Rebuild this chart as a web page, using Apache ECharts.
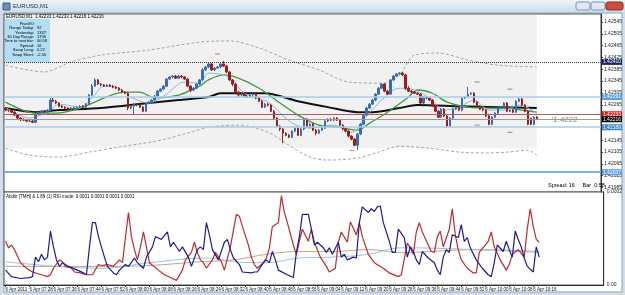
<!DOCTYPE html>
<html>
<head>
<meta charset="utf-8">
<title>EURUSD,M1</title>
<script src="https://cdn.jsdelivr.net/npm/echarts@6.0.0/dist/echarts.min.js"></script>
<style>
  html, body { margin: 0; padding: 0; background: #d6e0ec; }
  #chart { width: 625px; height: 295px; }
</style>
</head>
<body>
<div id="chart"></div>
<script>
// one category per M1 bar, 07:20 onwards, with empty room on the right like MT4
const categories = [];
for (let i = 0; i < 200; i++) {
  const m = 7 * 60 + 20 + i;
  categories.push(String(Math.floor(m / 60)).padStart(2, "0") + ":" + String(m % 60).padStart(2, "0"));
}

const xTickLabels = [
  "6 Apr 2011", "6 Apr 07:28", "6 Apr 07:36", "6 Apr 07:44", "6 Apr 07:52", "6 Apr 08:00",
  "6 Apr 08:08", "6 Apr 08:16", "6 Apr 08:24", "6 Apr 08:32", "6 Apr 08:40", "6 Apr 08:48",
  "6 Apr 08:56", "6 Apr 09:04", "6 Apr 09:12", "6 Apr 09:20", "6 Apr 09:28", "6 Apr 09:36",
  "6 Apr 09:44", "6 Apr 09:52", "6 Apr 10:00", "6 Apr 10:08", "6 Apr 10:16"
];

const priceTicks = [
  1.42545, 1.42505, 1.42465, 1.42425, 1.42385, 1.42345, 1.42305, 1.42265,
  1.42225, 1.42185, 1.42145, 1.42105, 1.42065, 1.42025, 1.41985
];

// [open, close, low, high]
const candles = [
  [1.42254,1.42247,1.42243,1.42257],[1.42247,1.42247,1.42240,1.42250],[1.42247,1.42240,1.42237,1.42250],
  [1.42240,1.42230,1.42227,1.42243],[1.42230,1.42220,1.42216,1.42233],[1.42220,1.42216,1.42210,1.42223],
  [1.42216,1.42213,1.42210,1.42220],[1.42213,1.42210,1.42206,1.42216],[1.42210,1.42210,1.42206,1.42213],
  [1.42210,1.42206,1.42203,1.42213],
  [1.42206,1.42233,1.42203,1.42237],[1.42233,1.42240,1.42230,1.42243],[1.42240,1.42243,1.42237,1.42247],
  [1.42243,1.42240,1.42237,1.42247],[1.42240,1.42247,1.42237,1.42250],[1.42247,1.42281,1.42243,1.42288],
  [1.42281,1.42277,1.42274,1.42288],[1.42277,1.42271,1.42267,1.42281],[1.42271,1.42260,1.42257,1.42274],
  [1.42260,1.42257,1.42254,1.42264],
  [1.42257,1.42254,1.42250,1.42260],[1.42254,1.42250,1.42247,1.42257],[1.42250,1.42254,1.42247,1.42257],
  [1.42254,1.42254,1.42250,1.42257],[1.42254,1.42257,1.42250,1.42260],[1.42257,1.42260,1.42254,1.42264],
  [1.42260,1.42257,1.42254,1.42264],[1.42257,1.42267,1.42254,1.42271],[1.42267,1.42298,1.42264,1.42301],
  [1.42298,1.42328,1.42294,1.42335],
  [1.42328,1.42349,1.42325,1.42355],[1.42349,1.42335,1.42332,1.42352],[1.42335,1.42332,1.42328,1.42338],
  [1.42332,1.42328,1.42325,1.42335],[1.42328,1.42332,1.42325,1.42335],[1.42332,1.42328,1.42325,1.42335],
  [1.42328,1.42325,1.42321,1.42332],[1.42325,1.42321,1.42318,1.42328],[1.42321,1.42315,1.42311,1.42325],
  [1.42315,1.42308,1.42304,1.42318],
  [1.42308,1.42304,1.42301,1.42311],[1.42304,1.42254,1.42247,1.42308],[1.42254,1.42260,1.42250,1.42264],
  [1.42260,1.42267,1.42230,1.42271],[1.42267,1.42264,1.42260,1.42271],[1.42264,1.42257,1.42254,1.42267],
  [1.42257,1.42243,1.42240,1.42260],[1.42243,1.42271,1.42240,1.42274],[1.42271,1.42274,1.42267,1.42277],
  [1.42274,1.42281,1.42271,1.42284],
  [1.42281,1.42294,1.42277,1.42298],[1.42294,1.42311,1.42291,1.42315],[1.42311,1.42318,1.42308,1.42321],
  [1.42318,1.42328,1.42315,1.42332],[1.42328,1.42352,1.42325,1.42355],[1.42352,1.42359,1.42349,1.42362],
  [1.42359,1.42362,1.42355,1.42366],[1.42362,1.42355,1.42352,1.42366],[1.42355,1.42362,1.42352,1.42366],
  [1.42362,1.42359,1.42355,1.42366],
  [1.42359,1.42352,1.42349,1.42362],[1.42352,1.42328,1.42325,1.42355],[1.42328,1.42315,1.42308,1.42332],
  [1.42315,1.42321,1.42311,1.42325],[1.42321,1.42335,1.42318,1.42338],[1.42335,1.42349,1.42332,1.42352],
  [1.42349,1.42383,1.42345,1.42389],[1.42383,1.42393,1.42379,1.42396],[1.42393,1.42403,1.42389,1.42406],
  [1.42403,1.42383,1.42379,1.42406],
  [1.42383,1.42389,1.42379,1.42393],[1.42389,1.42393,1.42386,1.42396],[1.42393,1.42403,1.42389,1.42406],
  [1.42403,1.42396,1.42393,1.42413],[1.42396,1.42376,1.42372,1.42399],[1.42376,1.42349,1.42345,1.42379],
  [1.42349,1.42335,1.42328,1.42352],[1.42335,1.42308,1.42304,1.42338],[1.42308,1.42298,1.42291,1.42311],
  [1.42298,1.42301,1.42294,1.42304],
  [1.42301,1.42294,1.42291,1.42304],[1.42294,1.42291,1.42288,1.42298],[1.42291,1.42298,1.42288,1.42301],
  [1.42298,1.42301,1.42294,1.42304],[1.42301,1.42288,1.42284,1.42304],[1.42288,1.42277,1.42274,1.42291],
  [1.42277,1.42257,1.42254,1.42281],[1.42257,1.42267,1.42254,1.42271],[1.42267,1.42264,1.42260,1.42271],
  [1.42264,1.42243,1.42240,1.42267],
  [1.42243,1.42220,1.42216,1.42247],[1.42220,1.42193,1.42189,1.42223],[1.42193,1.42183,1.42176,1.42196],
  [1.42183,1.42169,1.42135,1.42186],[1.42169,1.42162,1.42159,1.42172],[1.42162,1.42155,1.42152,1.42166],
  [1.42155,1.42176,1.42152,1.42179],[1.42176,1.42186,1.42172,1.42189],[1.42186,1.42162,1.42159,1.42189],
  [1.42162,1.42183,1.42159,1.42186],
  [1.42183,1.42216,1.42179,1.42220],[1.42216,1.42189,1.42186,1.42220],[1.42189,1.42199,1.42186,1.42203],
  [1.42199,1.42179,1.42176,1.42203],[1.42179,1.42169,1.42162,1.42183],[1.42169,1.42179,1.42166,1.42183],
  [1.42179,1.42186,1.42176,1.42189],[1.42186,1.42210,1.42183,1.42213],[1.42210,1.42216,1.42206,1.42220],
  [1.42216,1.42213,1.42210,1.42220],
  [1.42213,1.42220,1.42210,1.42223],[1.42220,1.42213,1.42210,1.42223],[1.42213,1.42196,1.42193,1.42216],
  [1.42196,1.42183,1.42179,1.42199],[1.42183,1.42176,1.42172,1.42186],[1.42176,1.42159,1.42155,1.42179],
  [1.42159,1.42149,1.42145,1.42162],[1.42149,1.42128,1.42125,1.42152],[1.42128,1.42166,1.42111,1.42169],
  [1.42166,1.42199,1.42162,1.42203],
  [1.42199,1.42230,1.42196,1.42233],[1.42230,1.42254,1.42227,1.42257],[1.42254,1.42267,1.42250,1.42271],
  [1.42267,1.42281,1.42264,1.42284],[1.42281,1.42301,1.42277,1.42304],[1.42301,1.42321,1.42298,1.42325],
  [1.42321,1.42335,1.42318,1.42338],[1.42335,1.42311,1.42308,1.42338],[1.42311,1.42301,1.42298,1.42315],
  [1.42301,1.42349,1.42298,1.42352],
  [1.42349,1.42362,1.42345,1.42366],[1.42362,1.42369,1.42359,1.42372],[1.42369,1.42372,1.42366,1.42376],
  [1.42372,1.42366,1.42362,1.42376],[1.42366,1.42321,1.42315,1.42369],[1.42321,1.42311,1.42308,1.42328],
  [1.42311,1.42308,1.42304,1.42315],[1.42308,1.42304,1.42301,1.42311],[1.42304,1.42301,1.42298,1.42308],
  [1.42301,1.42271,1.42267,1.42304],
  [1.42271,1.42291,1.42267,1.42294],[1.42291,1.42288,1.42284,1.42294],[1.42288,1.42281,1.42277,1.42291],
  [1.42281,1.42260,1.42257,1.42284],[1.42260,1.42243,1.42240,1.42264],[1.42243,1.42223,1.42220,1.42247],
  [1.42223,1.42250,1.42220,1.42254],[1.42250,1.42227,1.42223,1.42254],[1.42227,1.42193,1.42186,1.42230],
  [1.42193,1.42220,1.42189,1.42223],
  [1.42220,1.42250,1.42216,1.42254],[1.42250,1.42257,1.42247,1.42260],[1.42257,1.42247,1.42243,1.42260],
  [1.42247,1.42288,1.42243,1.42291],[1.42288,1.42291,1.42284,1.42294],[1.42291,1.42301,1.42288,1.42325],
  [1.42301,1.42304,1.42298,1.42308],[1.42304,1.42274,1.42271,1.42308],[1.42274,1.42260,1.42257,1.42277],
  [1.42260,1.42250,1.42247,1.42264],
  [1.42250,1.42247,1.42243,1.42254],[1.42247,1.42227,1.42223,1.42250],[1.42227,1.42199,1.42196,1.42230],
  [1.42199,1.42223,1.42196,1.42227],[1.42223,1.42237,1.42220,1.42240],[1.42237,1.42254,1.42233,1.42257],
  [1.42254,1.42257,1.42250,1.42260],[1.42257,1.42271,1.42254,1.42274],[1.42271,1.42243,1.42240,1.42274],
  [1.42243,1.42247,1.42240,1.42250],
  [1.42247,1.42240,1.42237,1.42250],[1.42240,1.42277,1.42237,1.42281],[1.42277,1.42284,1.42274,1.42288],
  [1.42284,1.42264,1.42260,1.42288],[1.42264,1.42243,1.42240,1.42267],[1.42243,1.42199,1.42196,1.42247],
  [1.42220,1.42199,1.42196,1.42220],[1.42199,1.42223,1.42196,1.42227],[1.42223,1.42216,1.42213,1.42227]
];

// moving averages and bands, [bar index, price]
const maSlow = [
  [0,1.42254],[10,1.42240],[18,1.42247],[32,1.42254],[48,1.42271],[58,1.42281],[68,1.42291],[72,1.42304],
  [87,1.42304],[98,1.42277],[108,1.42257],[118,1.42240],[123,1.42240],[132,1.42254],[138,1.42264],
  [152,1.42260],[165,1.42257],[178,1.42254]
];
const maMid = [
  [0,1.42274],[10,1.42237],[17,1.42237],[25,1.42254],[40,1.42308],[45,1.42308],[50,1.42288],[58,1.42298],
  [65,1.42328],[68,1.42349],[73,1.42366],[78,1.42355],[85,1.42321],[92,1.42271],[98,1.42230],[105,1.42196],
  [112,1.42189],[118,1.42179],[122,1.42203],[128,1.42240],[135,1.42291],[138,1.42315],[143,1.42304],
  [148,1.42274],[155,1.42257],[162,1.42254],[168,1.42254],[173,1.42247],[178,1.42240]
];
const maFast = [
  [0,1.42257],[8,1.42220],[14,1.42240],[18,1.42267],[25,1.42257],[29,1.42288],[33,1.42328],[38,1.42321],
  [42,1.42291],[48,1.42271],[53,1.42294],[60,1.42342],[65,1.42338],[68,1.42372],[75,1.42359],[80,1.42304],
  [88,1.42274],[96,1.42203],[102,1.42186],[110,1.42196],[116,1.42172],[122,1.42240],[130,1.42315],
  [133,1.42321],[137,1.42315],[142,1.42288],[147,1.42247],[152,1.42257],[157,1.42281],[162,1.42247],
  [167,1.42247],[172,1.42264],[178,1.42237]
];
const bandUpper = [
  [0,1.42399],[13,1.42376],[22,1.42410],[32,1.42433],[48,1.42450],[65,1.42477],[75,1.42481],[85,1.42457],
  [95,1.42416],[105,1.42383],[115,1.42342],[127,1.42338],[132,1.42366],[137,1.42433],[145,1.42440],
  [155,1.42416],[165,1.42399],[178,1.42393]
];
const bandLower = [
  [0,1.42118],[8,1.42095],[18,1.42088],[28,1.42105],[38,1.42122],[52,1.42145],[62,1.42172],[68,1.42189],
  [78,1.42196],[88,1.42172],[95,1.42128],[102,1.42088],[108,1.42078],[118,1.42085],[125,1.42105],
  [132,1.42125],[142,1.42118],[152,1.42105],[162,1.42102],[168,1.42105],[175,1.42111],[178,1.42095]
];
const fractals = [
  [71,1.42437],[116,1.42111],[158,1.42342],[158,1.42196],[169,1.42318],[169,1.42172]
];

// price levels drawn across the window
const pivotLevel = 1.42410;
const levelUpper = 1.42291;
const levelRed = 1.42233;
const bidLevel = 1.42216;
const levelLower = 1.42189;
const levelLow = 1.42037;

// lower pane, [bar index, value]
const oscRed = [
  [0,47],[1,40],[2,43],[3,38],[5,24],[7,18],[9,14],[12,11],[14,9],[15,11],[16,18],[18,27],[19,25],[20,20],
  [22,18],[23,14],[25,13],[27,11],[29,11],[31,22],[32,21],[34,22],[36,20],[38,27],[39,24],[40,51],[41,78],
  [42,52],[43,38],[44,27],[45,41],[46,57],[47,41],[48,24],[51,16],[53,11],[55,8],[57,5],[59,16],[60,27],
  [62,35],[63,46],[64,35],[65,27],[66,24],[67,18],[69,27],[70,35],[72,25],[73,16],[75,41],[77,76],[78,74],
  [79,63],[81,43],[82,30],[83,22],[84,18],[86,24],[87,29],[88,40],[89,63],[91,67],[92,96],[93,78],[94,67],
  [96,43],[97,33],[98,47],[99,60],[101,47],[102,60],[103,46],[105,30],[107,20],[108,14],[110,18],[111,46],
  [112,57],[114,46],[115,68],[117,54],[118,67],[119,52],[121,33],[123,24],[126,18],[128,13],[131,9],
  [132,11],[134,45],[135,40],[136,33],[137,57],[138,67],[139,57],[141,43],[142,36],[143,35],[144,52],
  [145,58],[146,41],[148,60],[149,82],[150,54],[151,38],[152,27],[154,18],[156,13],[157,13],[158,35],
  [160,43],[161,47],[162,57],[163,41],[165,27],[167,16],[168,22],[169,33],[171,38],[173,30],[174,60],
  [175,82],[176,63],[177,49],[178,46]
];
const oscBlue = [
  [0,16],[2,9],[5,7],[8,8],[9,9],[10,30],[11,25],[12,33],[13,27],[14,30],[15,58],[16,41],[17,27],[18,20],
  [19,24],[21,20],[24,16],[26,13],[27,11],[28,41],[29,67],[30,67],[31,52],[33,30],[34,20],[36,13],[37,11],
  [38,16],[40,22],[41,20],[43,29],[44,24],[46,18],[47,30],[49,41],[50,52],[52,49],[54,57],[55,41],[56,46],
  [58,36],[59,41],[61,30],[62,20],[64,38],[65,41],[66,38],[67,67],[68,54],[69,38],[71,27],[73,46],[74,49],
  [75,38],[76,29],[78,22],[79,14],[82,13],[83,14],[84,14],[86,24],[87,27],[88,24],[89,36],[90,27],[91,16],
  [94,11],[96,8],[97,35],[98,52],[99,76],[101,76],[102,60],[103,43],[104,46],[106,40],[107,35],[108,40],
  [109,33],[111,46],[112,30],[113,33],[114,27],[116,30],[117,29],[118,67],[119,84],[121,78],[122,82],
  [123,79],[124,84],[125,85],[126,67],[128,47],[129,35],[130,35],[131,60],[133,51],[134,30],[135,41],
  [136,36],[137,27],[138,22],[139,36],[141,29],[143,24],[144,16],[145,11],[146,30],[147,38],[148,35],
  [149,54],[151,51],[152,65],[153,47],[154,51],[155,40],[157,27],[159,18],[161,11],[162,9],[163,24],
  [164,43],[166,36],[167,47],[168,38],[169,30],[170,58],[171,49],[172,41],[173,29],[174,20],[176,14],
  [177,41],[178,30]
];
const oscTan = [
  [0,20],[32,20],[48,21],[65,25],[76,27],[87,33],[98,36],[109,36],[121,38],[132,35],[157,38],[178,36]
];
const oscSky = [
  [0,25],[32,18],[48,24],[68,29],[76,25],[87,24],[98,29],[109,30],[121,33],[132,40],[157,38],[178,35]
];
const oscAxisText = { 0: "0.00", 100: "0.0002" };

const infoRows = [
  ["Range Today:", "92"],
  ["Yesterday:", "1337"],
  ["30 Day Range:", "1796"],
  ["Time to next bar:", "00:58"],
  ["Spread:", "16"],
  ["Swap Long:", "0.22"],
  ["Swap Short:", "-2.50"]
];

const FONT = "Liberation Sans";

function txt(x, y, text, size, color, align, z) {
  return {
    type: "text", x: x, y: y, z: z || 100, silent: true,
    style: { text: text, fill: color || "#000", font: size + "px " + FONT, align: align || "left", textAlign: align || "left", verticalAlign: "middle", textVerticalAlign: "middle" }
  };
}

const graphics = [
  { type: "rect", z: -20, silent: true, shape: { x: 0, y: 0, width: 625, height: 295 }, style: { fill: "#d3dde9" } },
  { type: "rect", z: -19, silent: true, shape: { x: 0, y: 0, width: 625, height: 13 },
    style: { fill: new echarts.graphic.LinearGradient(0, 0, 0, 1, [{ offset: 0, color: "#eef3f9" }, { offset: 1, color: "#cddbea" }]) } },
  { type: "rect", z: -18, silent: true, shape: { x: 4, y: 13, width: 618, height: 279 }, style: { fill: "#ffffff", stroke: "#8ea3bd", lineWidth: 1 } },
  { type: "rect", z: 100, silent: true, shape: { x: 3, y: 3, width: 7, height: 7 }, style: { fill: "#6a8fbf", stroke: "#3a5f90" } },
  txt(13, 6.5, "EURUSD,M1", 6, "#1e2f4a"),
  { type: "rect", z: 100, silent: true, shape: { x: 576, y: 2, width: 14, height: 8, r: 2 }, style: { fill: "#dfe8f3", stroke: "#7d93b0" } },
  { type: "rect", z: 100, silent: true, shape: { x: 591, y: 2, width: 14, height: 8, r: 2 }, style: { fill: "#dfe8f3", stroke: "#7d93b0" } },
  { type: "rect", z: 100, silent: true, shape: { x: 606, y: 2, width: 17, height: 8, r: 2 }, style: { fill: "#c9503f", stroke: "#8d2c22" } },
  txt(6, 16.5, "EURUSD,M1  1.42233 1.42233 1.42216 1.42216", 4.5, "#000"),
  { type: "rect", z: 50, silent: true, shape: { x: 5, y: 19, width: 45, height: 43 }, style: { fill: "#b2def5" } },
  txt(27, 23.5, "PivotXO", 4, "#000", "center", 51),
  txt(548, 185, "Spread: 16     Bar  0:58", 5.5, "#000"),
  txt(6, 196.5, "Abdiir [TMH] & 1.89 (1) RSI mode: 0.0001 0.0001 0.0001 0.0001", 4.5, "#000")
];
infoRows.forEach(function (row, k) {
  const y = 28 + k * 4.4;
  graphics.push(txt(34, y, row[0], 4, "#000", "right", 51));
  graphics.push(txt(37, y, row[1], 4, "#000", "left", 51));
});

function boxLabel(bg) {
  return {
    show: true, position: "end", distance: 1, formatter: function (p) { return p.value.toFixed(5); },
    color: "#fff", backgroundColor: bg, fontSize: 5, fontFamily: FONT, padding: [1, 1, 0, 1]
  };
}

function lineSeries(data, color, width, extra) {
  return Object.assign({
    type: "line", xAxisIndex: 0, yAxisIndex: 0, data: data, showSymbol: false, smooth: 0.3,
    lineStyle: { color: color, width: width }, silent: true, z: 4
  }, extra || {});
}

const chart = echarts.init(document.getElementById("chart"));

const option = {
  animation: false,
  graphic: { elements: graphics },
  grid: [
    { left: 4, top: 14, width: 600, height: 178, show: true, borderColor: "#555", borderWidth: 1, backgroundColor: "#fff" },
    { left: 4, top: 192, width: 600, height: 93, show: true, borderColor: "#555", borderWidth: 1, backgroundColor: "#fff" }
  ],
  xAxis: [
    { type: "category", gridIndex: 0, data: categories, boundaryGap: true,
      axisLine: { show: false }, axisTick: { show: false }, axisLabel: { show: false }, splitLine: { show: false } },
    { type: "category", gridIndex: 1, data: categories, boundaryGap: true,
      axisLine: { show: true, lineStyle: { color: "#333" } },
      axisTick: { show: true, alignWithLabel: true, length: 2, lineStyle: { color: "#333" },
        interval: function (i) { return i % 8 === 0 && i / 8 < xTickLabels.length; } },
      axisLabel: { interval: function (i) { return i % 8 === 0 && i / 8 < xTickLabels.length; },
        formatter: function (v, i) { return xTickLabels[i / 8]; },
        fontSize: 4.5, fontFamily: FONT, color: "#111", margin: 2, align: "left" },
      splitLine: { show: false } }
  ],
  yAxis: [
    { type: "value", gridIndex: 0, position: "right", min: 1.41970, max: 1.42572,
      splitLine: { show: false },
      axisLine: { show: true, lineStyle: { color: "#333" } },
      axisTick: { show: true, length: 2, customValues: priceTicks, lineStyle: { color: "#333" } },
      axisLabel: { customValues: priceTicks, formatter: function (v) { return v.toFixed(5); },
        fontSize: 5, fontFamily: FONT, color: "#222", margin: 3 } },
    { type: "value", gridIndex: 1, position: "right", min: 0, max: 100,
      splitLine: { show: false },
      axisLine: { show: true, lineStyle: { color: "#333" } },
      axisTick: { show: false },
      axisLabel: { customValues: [0, 100], formatter: function (v) { return oscAxisText[v]; },
        fontSize: 5, fontFamily: FONT, color: "#222", margin: 3 } }
  ],
  series: [
    lineSeries(bandUpper, "#a8a8a8", 1, {
      lineStyle: { color: "#a8a8a8", width: 1, type: [3, 2] }, z: 2,
      markArea: { silent: true, itemStyle: { color: "#f1f1f1" },
        data: [[{ xAxis: 0, yAxis: 1.42118 }, { xAxis: 178, yAxis: 1.42569 }]] }
    }),
    lineSeries(bandLower, "#a8a8a8", 1, { lineStyle: { color: "#a8a8a8", width: 1, type: [3, 2] }, z: 2 }),
    {
      type: "candlestick", xAxisIndex: 0, yAxisIndex: 0, data: candles, barWidth: 2, z: 5, silent: true,
      itemStyle: { color: "#3a6cb4", borderColor: "#3a6cb4", color0: "#9c1d1d", borderColor0: "#9c1d1d",
        borderColorDoji: "#555", borderWidth: 1 },
      markLine: {
        silent: true, symbol: ["none", "none"], precision: 5, z: 10,
        data: [
          { yAxis: pivotLevel, lineStyle: { color: "#333", type: "dotted", width: 1 }, label: boxLabel("#1b2660") },
          { yAxis: pivotLevel, lineStyle: { opacity: 0 },
            label: { show: true, position: "insideMiddleTop", distance: 1, formatter: "mR1  1.4241",
              color: "#666", fontSize: 5, fontFamily: FONT } },
          { yAxis: levelUpper, lineStyle: { color: "#a9cbe6", width: 1.5, type: "solid" }, label: boxLabel("#5b9fdc") },
          { yAxis: levelRed, lineStyle: { color: "#b35c5c", width: 1, type: "solid" }, label: boxLabel("#d42222") },
          { yAxis: bidLevel, lineStyle: { color: "#9a9a9a", width: 1, type: "solid" }, label: boxLabel("#000000") },
          { yAxis: levelLower, lineStyle: { color: "#a9cbe6", width: 1.5, type: "solid" }, label: boxLabel("#3f82d2") },
          { yAxis: levelLow, lineStyle: { color: "#80b1dc", width: 2, type: "solid" }, label: boxLabel("#5b9fdc") }
        ]
      },
      markPoint: {
        silent: true, symbolSize: 0,
        data: [{ coord: [183, 1.42213],
          label: { show: true, position: "right", distance: 0, formatter: "'1.4222", color: "#888", fontSize: 8, fontFamily: FONT } }]
      }
    },
    lineSeries(maSlow, "#111111", 2),
    lineSeries(maMid, "#3d9b3d", 1.3),
    lineSeries(maFast, "#86b6dc", 1),
    { type: "scatter", xAxisIndex: 0, yAxisIndex: 0, data: fractals, symbol: "rect", symbolSize: [5, 1],
      itemStyle: { color: "#a46060" }, silent: true, z: 6 },
    { type: "line", xAxisIndex: 1, yAxisIndex: 1, data: oscTan, showSymbol: false, smooth: 0.4, silent: true,
      lineStyle: { color: "#c9a37e", width: 1 } },
    { type: "line", xAxisIndex: 1, yAxisIndex: 1, data: oscSky, showSymbol: false, smooth: 0.4, silent: true,
      lineStyle: { color: "#98c3de", width: 1 } },
    { type: "line", xAxisIndex: 1, yAxisIndex: 1, data: oscRed, showSymbol: false, silent: true,
      lineStyle: { color: "#c0292d", width: 1.2 } },
    { type: "line", xAxisIndex: 1, yAxisIndex: 1, data: oscBlue, showSymbol: false, silent: true,
      lineStyle: { color: "#1c1c92", width: 1.2 } }
  ]
};

chart.setOption(option);
</script>
</body>
</html>
